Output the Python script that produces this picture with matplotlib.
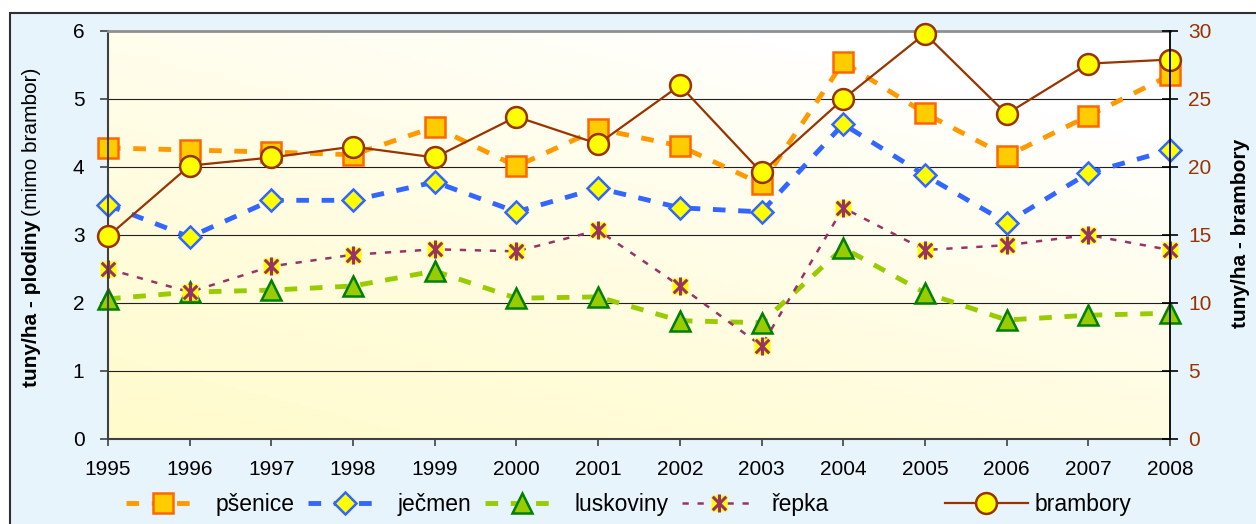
import numpy as np
import matplotlib
matplotlib.use('Agg')
import matplotlib.pyplot as plt
from matplotlib.path import Path
from matplotlib.patches import Rectangle
from matplotlib.legend_handler import HandlerTuple

plt.rcParams['font.family'] = ['Liberation Sans', 'DejaVu Sans']

years = list(range(1995, 2009))
psenice = [4.28, 4.25, 4.22, 4.18, 4.59, 4.01, 4.56, 4.31, 3.75, 5.54, 4.79, 4.16, 4.75, 5.35]
jecmen = [3.44, 2.97, 3.51, 3.51, 3.78, 3.34, 3.69, 3.40, 3.34, 4.63, 3.88, 3.18, 3.91, 4.25]
luskoviny = [2.06, 2.16, 2.19, 2.25, 2.47, 2.07, 2.09, 1.74, 1.71, 2.81, 2.15, 1.75, 1.82, 1.85]
repka = [2.50, 2.16, 2.54, 2.71, 2.79, 2.76, 3.07, 2.25, 1.37, 3.40, 2.78, 2.85, 3.00, 2.78]
brambory = [14.9, 20.1, 20.7, 21.5, 20.7, 23.7, 21.7, 26.0, 19.6, 25.0, 29.8, 23.9, 27.6, 27.9]

W, H = 1256, 524
fig = plt.figure(figsize=(W / 100, H / 100), dpi=100)
fig.patch.set_facecolor('white')

# outer chart frame
fig.patches.append(Rectangle((10 / W, -0.1), 1.2, 1.1 - 13 / H, transform=fig.transFigure,
                             facecolor='#e8f4fc', edgecolor='#303030', linewidth=1.5, zorder=-10))

ax = fig.add_axes([108 / W, 1 - 439 / H, (1170 - 108) / W, (439 - 31) / H])
ax.set_facecolor('none')

# plot area gradient: yellowish bottom-left to white top-right
gx, gy = np.meshgrid(np.linspace(0, 1, 200), np.linspace(0, 1, 100))
t = np.clip(1 - (0.6 * gy + 0.4 * gx) * 1.2, 0, 1) ** 0.8
white = np.array([1.0, 1.0, 1.0])
yellow = np.array([1.0, 0.985, 0.80])
img = white[None, None, :] * (1 - t[..., None]) + yellow[None, None, :] * t[..., None]
ax.imshow(img, extent=[0, 1, 0, 1], transform=ax.transAxes, origin='lower',
          aspect='auto', zorder=-5)

for v in [1, 2, 3, 4, 5]:
    ax.axhline(v, color='#202020', lw=0.8, zorder=0)

# asterisk marker: vertical line + X
ast = Path([(0, -1), (0, 1), (-0.75, -0.75), (0.75, 0.75), (-0.75, 0.75), (0.75, -0.75)],
           [Path.MOVETO, Path.LINETO, Path.MOVETO, Path.LINETO, Path.MOVETO, Path.LINETO])

l1, = ax.plot(years, psenice, color='#ff9900', lw=3.5, dashes=(2.6, 2.6),
              marker='s', ms=14, mfc='#ffcc00', mec='#ff6600', mew=1.8, clip_on=False, label='pšenice')
l2, = ax.plot(years, jecmen, color='#3366ff', lw=3.5, dashes=(2.6, 2.6),
              marker='D', ms=11, mfc='#ffff00', mec='#3366ff', mew=1.8, clip_on=False, label='ječmen')
l3, = ax.plot(years, luskoviny, color='#99cc00', lw=3.5, dashes=(2.6, 2.6),
              marker='^', ms=15, mfc='#99cc00', mec='#008000', mew=1.8, clip_on=False, label='luskoviny')
l4, = ax.plot(years, repka, color='#993366', lw=1.8, dashes=(2.5, 3.5),
              marker='s', ms=12, mfc='#ffff00', mec='none', clip_on=False)
l4b, = ax.plot(years, repka, ls='none', marker=ast, ms=13, mec='#993366', mew=2.2, clip_on=False)

ax.set_xlim(1995, 2008)
ax.set_ylim(0, 6)
ax.set_xticks(years)
ax.set_yticks(range(0, 7))
ax.tick_params(axis='both', labelsize=15, colors='black')
ax.tick_params(axis='y', direction='out', length=6, pad=11, color='#404040', width=1.2)
ax.tick_params(axis='x', direction='out', length=5, pad=10, color='#404040', width=1.2)
for s in ['left', 'bottom']:
    ax.spines[s].set_color('#404040')
    ax.spines[s].set_linewidth(1.5)
ax.spines['top'].set_color('#909090')
ax.spines['top'].set_linewidth(2)
ax.spines['right'].set_visible(False)

ax2 = ax.twinx()
l5, = ax2.plot(years, brambory, color='#993300', lw=1.6, marker='o', ms=15,
               mfc='#ffff00', mec='#993300', mew=1.8, clip_on=False, label='brambory')
ax2.set_ylim(0, 30)
ax2.set_yticks(range(0, 31, 5))
ax2.tick_params(axis='y', direction='inout', length=12, pad=7, labelsize=15,
                labelcolor='#993300', color='black', width=1.2)
ax2.spines['right'].set_color('black')
ax2.spines['right'].set_linewidth(1.3)
for s in ['left', 'top', 'bottom']:
    ax2.spines[s].set_visible(False)

fig.text(1240 / W, 1 - 233 / H, 'tuny/ha - brambory', rotation=90, fontsize=15,
         fontweight='bold', ha='center', va='center')

# left label: bold part + normal part
t1 = fig.text(32 / W, 1 - 387 / H, 'tuny/ha - plodiny', rotation=90, fontsize=15,
              fontweight='bold', ha='center', va='bottom')
fig.canvas.draw()
bb = t1.get_window_extent(fig.canvas.get_renderer())
fig.text(32 / W, (bb.y1 + 4) / H, '(mimo brambor)', rotation=90, fontsize=15,
         ha='center', va='bottom')

leg1 = fig.legend([l1, l2, l3, (l4, l4b)], ['pšenice', 'ječmen', 'luskoviny', 'řepka'],
                  handler_map={tuple: HandlerTuple(ndivide=1)},
                  loc='center left', bbox_to_anchor=(126 / W, 1 - 505 / H), ncol=4,
                  frameon=False, fontsize=16.5, handlelength=3.2, handletextpad=0.7,
                  columnspacing=0.6, borderpad=0, borderaxespad=0)
fig.legend([l5], ['brambory'], loc='center left', bbox_to_anchor=(945 / W, 1 - 505 / H),
           frameon=False, fontsize=16.5, handlelength=3.6, handletextpad=0.3,
           borderpad=0, borderaxespad=0)

fig.savefig('out.png', dpi=100, facecolor=fig.get_facecolor())
